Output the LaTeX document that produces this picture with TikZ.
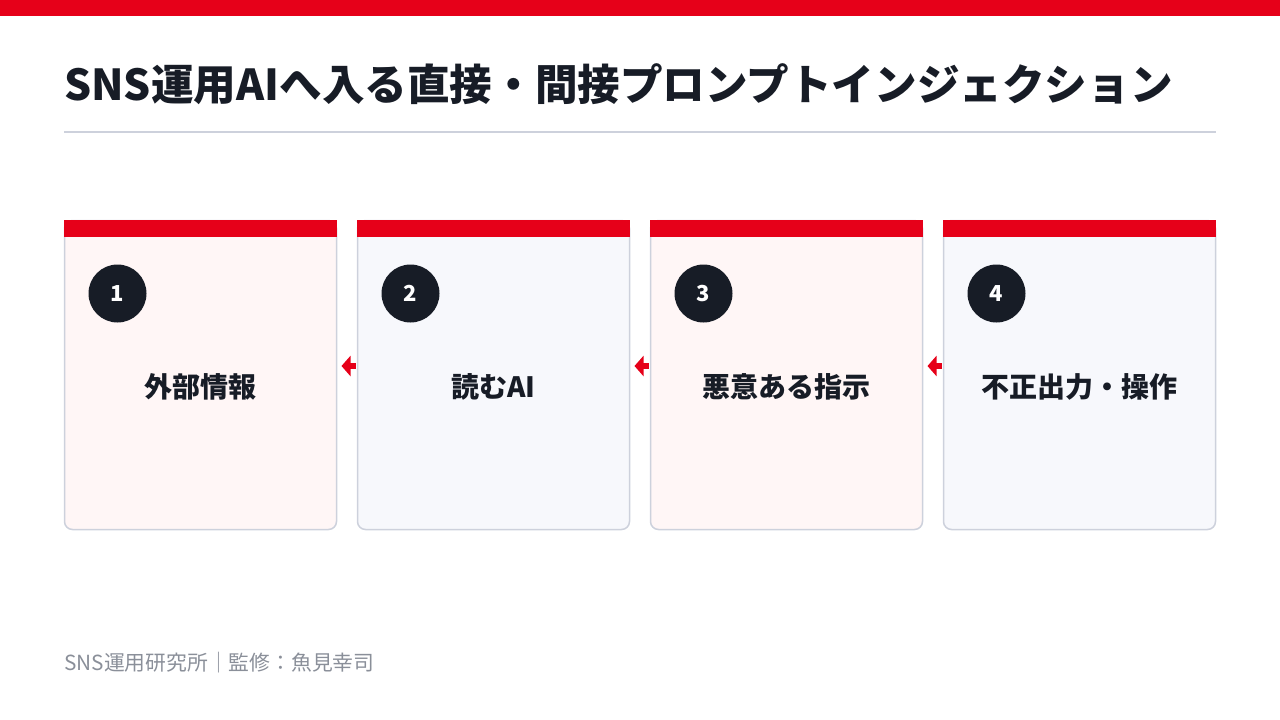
\documentclass[tikz,border=0pt]{standalone}
\usepackage{fontspec}
\setmainfont{Noto Sans CJK JP}
\usetikzlibrary{positioning,arrows.meta,calc}

\definecolor{brandred}{HTML}{E60019}
\definecolor{ink}{HTML}{171C26}
\definecolor{rulegray}{HTML}{CDD1DC}
\definecolor{pinkbg}{HTML}{FFF6F6}
\definecolor{bluebg}{HTML}{F7F8FC}
\definecolor{footgray}{HTML}{8A8F99}

\tikzset{
	card/.style={draw=rulegray, line width=1.5pt, rounded corners=8pt, minimum width=272pt, minimum height=309pt, inner sep=0pt, outer sep=0pt},
	badge/.style={circle, fill=ink, minimum size=58pt, inner sep=0pt, text=white, font=\fontsize{22}{22}\selectfont\bfseries},
	cardlabel/.style={text=ink, font=\fontsize{28}{28}\selectfont\bfseries},
	flow/.style={draw=brandred, line width=6pt, -{Triangle[length=9pt,width=20pt]}},
}

\begin{document}
\begin{tikzpicture}
	\useasboundingbox (0,0) rectangle (1280pt,-720pt);
	\fill[brandred] (0,0) rectangle (1280pt,-16pt);
	\node[anchor=base west, inner sep=0pt, text=ink, font=\fontsize{42.6}{43}\selectfont\bfseries] (title) at (64pt,-100pt) {SNS運用AIへ入る直接・間接プロンプトインジェクション};
	\draw[rulegray, line width=2pt] (64pt,-132pt) -- (1216pt,-132pt);
	% cards
	\node[card, fill=pinkbg] (card1) at (200.5pt,-375pt) {};
	\node[card, fill=bluebg, right=21pt of card1] (card2) {};
	\node[card, fill=pinkbg, right=21pt of card2] (card3) {};
	\node[card, fill=bluebg, right=21pt of card3] (card4) {};
	\foreach \c in {card1,card2,card3,card4}
		\fill[brandred] ($(\c.north west)+(-0.75pt,0.75pt)$) rectangle ($(\c.north east)+(0.75pt,-16pt)$);
	% numbers
	\node[badge] (num1) at ($(card1.north west)+(53pt,-73pt)$) {1};
	\node[badge] (num2) at ($(card2.north west)+(53pt,-73pt)$) {2};
	\node[badge] (num3) at ($(card3.north west)+(53pt,-73pt)$) {3};
	\node[badge] (num4) at ($(card4.north west)+(53pt,-73pt)$) {4};
	% labels
	\node[cardlabel] (label1) at ($(card1.center)+(0,-12pt)$) {外部情報};
	\node[cardlabel] (label2) at ($(card2.center)+(0,-12pt)$) {読むAI};
	\node[cardlabel] (label3) at ($(card3.center)+(0,-12pt)$) {悪意ある指示};
	\node[cardlabel] (label4) at ($(card4.center)+(0,-12pt)$) {不正出力・操作};
	% arrows
	\draw[flow] ($(card2.west)+(-2pt,9pt)$) -- ($(card1.east)+(5pt,9pt)$);
	\draw[flow] ($(card3.west)+(-2pt,9pt)$) -- ($(card2.east)+(5pt,9pt)$);
	\draw[flow] ($(card4.west)+(-2pt,9pt)$) -- ($(card3.east)+(5pt,9pt)$);
	\node[anchor=base west, inner sep=0pt, text=footgray, font=\fontsize{20.8}{21}\selectfont] (footer) at (64pt,-670pt) {SNS運用研究所｜監修：魚見幸司};
\end{tikzpicture}
\end{document}
